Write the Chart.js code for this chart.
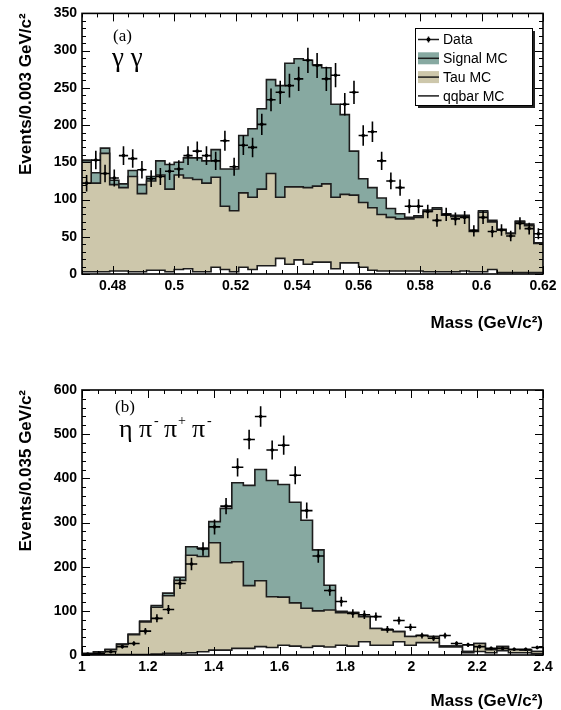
<!DOCTYPE html>
<html>
<head>
<meta charset="utf-8">
<script src="https://cdn.jsdelivr.net/npm/chart.js@4.4.1/dist/chart.umd.min.js"></script>
<style>
  html, body { margin: 0; padding: 0; background: #fff; }
  body { width: 561px; height: 710px; position: relative; overflow: hidden; }
  .panel { position: absolute; left: 0; width: 561px; }
  #panelA { top: 0; height: 345px; }
  #panelB { top: 355px; height: 355px; }
</style>
</head>
<body>
<div class="panel" id="panelA"><canvas id="chartA"></canvas></div>
<div class="panel" id="panelB"><canvas id="chartB"></canvas></div>
<script>
// (a) gamma gamma : 50 bins of 0.003 GeV/c2 starting at 0.47
const binLoA = 0.47, binWA = 0.003;
const dataA   = [122, 153, 135, 129, 159, 155, 140, 128, 131, 138, 141, 159, 165, 159, 152, 179, 144, 173, 170, 201,
                 234, 244, 253, 262, 287, 280, 262, 267, 228, 244, 186, 191, 152, 125, 116, 91, 91, 84, 72, 80,
                 74, 76, 58, 76, 57, 59, 51, 68, 61, 54];
const signalA = [3, 14, 7, 6, 5, 8, 12, 6, 19, 33, 17, 27, 29, 30, 37, 50, 56, 77, 92, 108,
                 126, 150, 166, 172, 171, 163, 156, 125, 107, 59, 32, 27, 22, 12, 7, 2, 2, 2, 2, 2,
                 2, 2, 2, 2, 2, 1, 1, 1, 2, 1];
const tauA    = [147, 119, 159, 116, 112, 128, 105, 120, 128, 111, 127, 122, 124, 119, 121, 85, 82, 100, 97, 103,
                 124, 82, 104, 98, 103, 102, 105, 96, 92, 91, 87, 84, 76, 72, 70, 70, 72, 81, 84, 76,
                 74, 73, 54, 80, 64, 57, 52, 68, 63, 39];
const qqbarA  = [3, 3, 3, 4, 4, 3, 3, 5, 5, 3, 6, 7, 3, 3, 9, 6, 3, 9, 6, 11,
                 11, 21, 13, 19, 13, 16, 16, 7, 15, 15, 9, 5, 4, 4, 4, 4, 4, 3, 3, 3,
                 3, 4, 3, 3, 6, 2, 2, 2, 2, 2];

// (b) eta pi- pi+ pi- : 40 bins of 0.035 GeV/c2 starting at 1.0
const binLoB = 1.0, binWB = 0.035;
const dataB   = [2, 4, 7.5, 19, 26, 54, 83, 103, 162, 206, 240, 290, 337, 425, 488, 540, 464, 475, 407, 327,
                 224, 146, 121, 94, 91, 87, 58, 78, 63, 44, 38, 44, 26, 23, 19, 15, 15, 13, 13, 17];
const signalB = [2, 0.5, 1, 1, 1.5, 2, 4, 6, 7, 19, 19, 48, 123, 179, 227, 252, 263, 255, 228, 199,
                 138, 56, 3, 0, 0, 0, 0, 0, 0, 0, 0, 0, 0, 0, 0, 0, 0, 0, 0, 0];
const tauB    = [1.5, 6, 11, 23, 45, 74, 106, 130, 165, 221, 215.5, 243, 198, 196, 142, 149, 115, 109, 98, 89,
                 80, 84, 74, 76, 57, 38, 35, 23, 20, 16, 14, 2, 2, 3, 18, 7, 9, 7, 6, 5];
const qqbarB  = [0.5, 1, 1, 1, 1, 1, 2, 4, 4, 5, 7.5, 11, 11, 15, 15, 19, 17, 22, 20, 17,
                 20, 18, 22, 20, 30, 22, 22, 30, 22, 28, 28, 18, 18, 5, 8, 5, 10, 5, 5, 3];

const seriesNames = ['Data', 'Signal MC', 'Tau MC', 'qqbar MC'];

const TEAL = '#87a9a1';
const TAN = '#cdc7ab';
const LINE = '#1c1c1c';

// cumulative stack as step points on the bin edges (THStack style)
function stackSteps(lo, w, parts) {
  const n = parts[0].length;
  const pts = [];
  for (let i = 0; i < n; i++) {
    let y = 0;
    parts.forEach(p => { y += p[i]; });
    pts.push({ x: lo + i * w, y: y });
  }
  pts.push({ x: lo + n * w, y: pts[n - 1].y });
  return pts;
}

function dataPoints(lo, w, vals) {
  return vals.map((v, i) => ({ x: lo + (i + 0.5) * w, y: v }));
}

// frame + inward ticks on all four sides
const frameTicks = {
  id: 'frameTicks',
  afterDatasetsDraw(chart, args, o) {
    const { ctx, chartArea: a, scales: { x, y } } = chart;
    ctx.save();
    ctx.strokeStyle = '#000';
    ctx.lineWidth = 1;
    ctx.beginPath();
    const isMajor = (v, m) => Math.abs(v / m - Math.round(v / m)) < 1e-6;
    for (let k = Math.ceil(x.min / o.xMinor - 1e-6); k * o.xMinor <= x.max + 1e-9; k++) {
      const v = k * o.xMinor;
      const px = Math.round(x.getPixelForValue(v)) + 0.5;
      const len = isMajor(v, o.xMajor) ? 8 : 4;
      ctx.moveTo(px, a.bottom); ctx.lineTo(px, a.bottom - len);
      ctx.moveTo(px, a.top); ctx.lineTo(px, a.top + len);
    }
    for (let k = Math.ceil(y.min / o.yMinor - 1e-6); k * o.yMinor <= y.max + 1e-9; k++) {
      const v = k * o.yMinor;
      const py = Math.round(y.getPixelForValue(v)) + 0.5;
      const len = isMajor(v, o.yMajor) ? 8 : 4;
      ctx.moveTo(a.left, py); ctx.lineTo(a.left + len, py);
      ctx.moveTo(a.right, py); ctx.lineTo(a.right - len, py);
    }
    ctx.stroke();
    ctx.lineWidth = 1.6;
    ctx.strokeRect(a.left, a.top, a.right - a.left, a.bottom - a.top);
    ctx.restore();
  }
};

// sqrt(N) error bars, +- half a bin horizontally
const errorBars = {
  id: 'errorBars',
  afterDatasetsDraw(chart, args, o) {
    const { ctx, chartArea: a, scales: { x, y } } = chart;
    const pts = chart.data.datasets[0].data;
    ctx.save();
    ctx.beginPath();
    ctx.rect(a.left, a.top, a.right - a.left, a.bottom - a.top);
    ctx.clip();
    ctx.strokeStyle = '#000';
    ctx.lineWidth = o.width;
    ctx.beginPath();
    pts.forEach(p => {
      const e = Math.sqrt(p.y);
      const px = x.getPixelForValue(p.x), py = y.getPixelForValue(p.y);
      ctx.moveTo(x.getPixelForValue(p.x - o.halfBin), py);
      ctx.lineTo(x.getPixelForValue(p.x + o.halfBin), py);
      ctx.moveTo(px, y.getPixelForValue(p.y - e));
      ctx.lineTo(px, y.getPixelForValue(p.y + e));
    });
    ctx.stroke();
    ctx.restore();
  }
};

// "(a)", "gamma gamma" style labels inside the frame
const panelLabels = {
  id: 'panelLabels',
  afterDraw(chart, args, o) {
    const ctx = chart.ctx;
    ctx.save();
    ctx.fillStyle = '#000';
    ctx.textBaseline = 'alphabetic';
    o.pieces.forEach(p => {
      ctx.font = p.size + 'px "Liberation Serif", "DejaVu Serif", serif';
      ctx.fillText(p.text, p.x, p.y);
    });
    ctx.restore();
  }
};

// ROOT like legend box with shadow
const rootLegend = {
  id: 'rootLegend',
  afterDraw(chart, args, o) {
    if (!o.show) return;
    const ctx = chart.ctx;
    const b = o.box;
    ctx.save();
    ctx.fillStyle = '#222';
    ctx.fillRect(b.x + 3, b.y + 3, b.w, b.h);
    ctx.fillStyle = '#fff';
    ctx.fillRect(b.x, b.y, b.w, b.h);
    ctx.strokeStyle = '#000';
    ctx.lineWidth = 1;
    ctx.strokeRect(b.x + 0.5, b.y + 0.5, b.w, b.h);
    const ds = chart.data.datasets;
    const order = [0, 3, 2, 1];
    ctx.font = '14px "Liberation Sans", Arial, sans-serif';
    ctx.textBaseline = 'middle';
    order.forEach((di, row) => {
      const cy = b.y + 11.5 + row * 18.8;
      const sx = b.x + 3, sw = 21;
      const d = ds[di];
      ctx.strokeStyle = LINE;
      ctx.lineWidth = 1.5;
      if (di === 0) {
        ctx.beginPath();
        ctx.moveTo(sx, cy); ctx.lineTo(sx + sw, cy);
        ctx.moveTo(sx + sw / 2, cy - 3); ctx.lineTo(sx + sw / 2, cy + 3);
        ctx.stroke();
        ctx.fillStyle = '#000';
        ctx.beginPath(); ctx.arc(sx + sw / 2, cy, 2, 0, Math.PI * 2); ctx.fill();
      } else {
        if (d.backgroundColor !== '#ffffff') {
          ctx.fillStyle = d.backgroundColor;
          ctx.fillRect(sx, cy - 6, sw, 12);
        }
        ctx.beginPath();
        ctx.moveTo(sx, cy); ctx.lineTo(sx + sw, cy);
        ctx.stroke();
      }
      ctx.fillStyle = '#000';
      ctx.fillText(d.label, b.x + 28, cy + 1);
    });
    ctx.restore();
  }
};

function makeChart(id, c) {
  const histo = (label, parts, fillColor) => ({
    label: label,
    data: stackSteps(c.lo, c.w, parts),
    stepped: true,
    fill: 'origin',
    backgroundColor: fillColor,
    borderColor: LINE,
    borderWidth: 1.6,
    pointRadius: 0,
    tension: 0
  });
  return new Chart(document.getElementById(id), {
    type: 'line',
    data: {
      datasets: [
        {
          label: seriesNames[0],
          data: dataPoints(c.lo, c.w, c.data),
          showLine: false,
          pointRadius: 1.8,
          pointBackgroundColor: '#000',
          pointBorderWidth: 0
        },
        histo(seriesNames[3], [c.qq], '#ffffff'),
        histo(seriesNames[2], [c.qq, c.tau], TAN),
        histo(seriesNames[1], [c.qq, c.tau, c.sig], TEAL)
      ]
    },
    options: {
      responsive: true,
      maintainAspectRatio: false,
      animation: false,
      layout: { padding: { left: 0, right: 18, top: c.padTop, bottom: 0 } },
      scales: {
        x: {
          type: 'linear',
          min: c.xMin, max: c.xMax,
          grid: { display: false, drawTicks: false },
          border: { display: false },
          afterFit: s => { s.height = c.xAxisH; },
          ticks: {
            stepSize: c.xMajor,
            includeBounds: false,
            autoSkip: false,
            maxRotation: 0,
            padding: 4,
            color: '#000',
            font: { family: '"Liberation Sans", Arial, sans-serif', size: 14, weight: 'bold' },
            callback: v => String(+v.toFixed(3))
          },
          title: {
            display: true,
            text: 'Mass (GeV/c²)',
            align: 'end',
            color: '#000',
            padding: { top: 0, bottom: c.xTitlePad },
            font: { family: '"Liberation Sans", Arial, sans-serif', size: 17, weight: 'bold', lineHeight: 1 }
          }
        },
        y: {
          min: 0, max: c.yMax,
          grid: { display: false, drawTicks: false },
          border: { display: false },
          afterFit: s => { s.width = 82; },
          ticks: {
            stepSize: c.yMajor,
            autoSkip: false,
            padding: 5,
            color: '#000',
            font: { family: '"Liberation Sans", Arial, sans-serif', size: 14, weight: 'bold' }
          },
          title: {
            display: true,
            text: c.yTitle,
            align: 'end',
            color: '#000',
            padding: { top: 17.5, bottom: 0 },
            font: { family: '"Liberation Sans", Arial, sans-serif', size: 17, weight: 'bold', lineHeight: 1 }
          }
        }
      },
      plugins: {
        legend: { display: false },
        tooltip: { enabled: false },
        frameTicks: { xMajor: c.xMajor, xMinor: c.xMinor, yMajor: c.yMajor, yMinor: c.yMinor },
        errorBars: { halfBin: c.w / 2, width: 1.6 },
        panelLabels: { pieces: c.labels },
        rootLegend: { show: c.legend, box: { x: 415, y: 28, w: 117, h: 77 } }
      }
    },
    plugins: [frameTicks, errorBars, panelLabels, rootLegend]
  });
}

makeChart('chartA', {
  lo: binLoA, w: binWA, data: dataA, sig: signalA, tau: tauA, qq: qqbarA,
  xMin: 0.47, xMax: 0.62, xMajor: 0.02, xMinor: 0.005,
  yMax: 350, yMajor: 50, yMinor: 10,
  yTitle: 'Events/0.003 GeV/c²',
  padTop: 10, xAxisH: 71, xTitlePad: 13.5,
  legend: true,
  labels: [
    { text: '(a)', size: 17, x: 113, y: 41 },
    { text: 'γ γ', size: 27, x: 112, y: 66 }
  ]
});

makeChart('chartB', {
  lo: binLoB, w: binWB, data: dataB, sig: signalB, tau: tauB, qq: qqbarB,
  xMin: 1.0, xMax: 2.4, xMajor: 0.2, xMinor: 0.05,
  yMax: 600, yMajor: 100, yMinor: 20,
  yTitle: 'Events/0.035 GeV/c²',
  padTop: 35, xAxisH: 55, xTitlePad: 0,
  legend: false,
  labels: [
    { text: '(b)', size: 17, x: 115, y: 57 },
    { text: 'η π', size: 26, x: 119, y: 82 },
    { text: '-', size: 14, x: 154, y: 70 },
    { text: 'π', size: 26, x: 164, y: 82 },
    { text: '+', size: 14, x: 178, y: 70 },
    { text: 'π', size: 26, x: 192, y: 82 },
    { text: '-', size: 14, x: 207, y: 70 }
  ]
});
</script>
</body>
</html>
